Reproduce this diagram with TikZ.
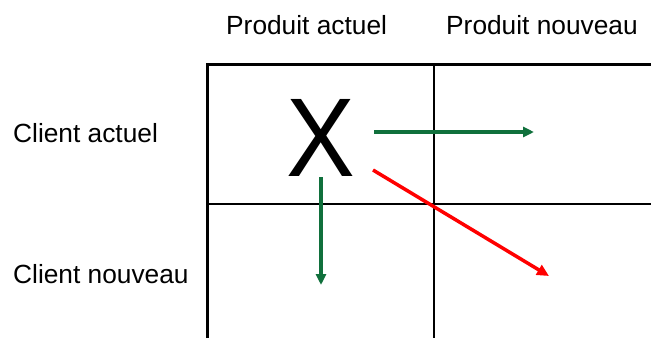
\documentclass[tikz,border=0pt]{standalone}
\usepackage{fontspec}
\setmainfont{Liberation Sans}
\usetikzlibrary{arrows.meta}
\definecolor{dgreen}{RGB}{16,112,60}
\tikzset{
  lbl/.style={anchor=base west, inner sep=0pt, font=\fontsize{26.3}{30}\selectfont},
  thickline/.style={line width=3pt},
  thinline/.style={line width=1.5pt},
  garrow/.style={draw=dgreen, line width=3.5pt, -{Triangle[length=11pt,width=10pt]}},
  rarrow/.style={draw=red, line width=3.5pt, -{Triangle[length=12pt,width=11pt]}}
}
\begin{document}
\begin{tikzpicture}[x=1pt,y=-1pt]
\useasboundingbox (0,0) rectangle (651,338);
% grid
\coordinate (tl) at (207.5,64.5);
\coordinate (tr) at (651,64.5);
\coordinate (bl) at (207.5,338);
\coordinate (mt) at (434,64.5);
\coordinate (mb) at (434,338);
\coordinate (ml) at (207.5,204);
\coordinate (mr) at (651,204);
\draw[thinline] (mt) -- (mb);
\draw[thinline] (ml) -- (mr);
\draw[thickline] (bl) -- (tl) -- (tr);
% labels
\node[lbl] (pa) at (226,34) {Produit actuel};
\node[lbl] (pn) at (446,34) {Produit nouveau};
\node[lbl] (ca) at (13,142) {Client actuel};
\node[lbl] (cn) at (13,283) {Client nouveau};
% X
\node[inner sep=0pt, anchor=base, font=\fontsize{112}{112}\selectfont, xscale=0.92, transform shape] (x) at (321,176) {X};
% arrows
\coordinate (g1s) at (374,132);
\coordinate (g1e) at (534,132);
\coordinate (g2s) at (321,177);
\coordinate (g2e) at (321,285);
\coordinate (rs) at (373,170);
\coordinate (re) at (549,276);
\draw[garrow] (g1s) -- (g1e);
\draw[garrow] (g2s) -- (g2e);
\draw[rarrow] (rs) -- (re);
\end{tikzpicture}
\end{document}
